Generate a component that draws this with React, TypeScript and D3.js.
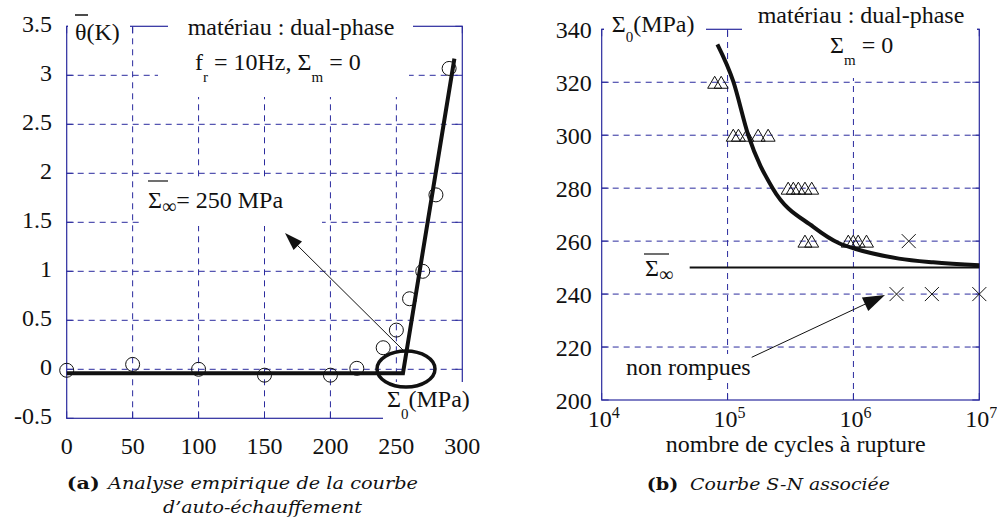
import React, { useEffect, useState } from "react";
import * as d3 from "d3";

// ---------- data: panel (a) ----------
const stressA = [0, 50, 100, 150, 200, 220, 240, 250, 260, 270, 280, 290];
const thetaA = [-0.01, 0.05, 0.0, -0.06, -0.06, 0.01, 0.22, 0.4, 0.72, 1.0, 1.78, 3.07];
const fitStressA = [0, 255, 294];
const fitThetaA = [-0.04, -0.04, 3.17];
const xTicksA = [0, 50, 100, 150, 200, 250, 300];
const yTicksA = [-0.5, 0, 0.5, 1, 1.5, 2, 2.5, 3, 3.5];
const yTickLabelsA = ["-0.5", "0", "0.5", "1", "1.5", "2", "2.5", "3", "3.5"];

// ---------- data: panel (b) ----------
const triN = [7.9e4, 8.9e4, 1.11e5, 1.22e5, 1.42e5, 1.75e5, 2.1e5, 3.03e5, 3.33e5, 3.65e5, 4.12e5, 4.66e5, 4.12e5, 4.66e5, 9.1e5, 9.96e5, 1.09e6, 1.27e6];
const triS = [320, 320, 300, 300, 300, 300, 300, 280, 280, 280, 280, 280, 260, 260, 260, 260, 260, 260];
const crossN = [2.75e6, 2.2e6, 4.2e6, 1e7];
const crossS = [260, 240, 240, 240];
const curveN = [8.3e4, 1.11e5, 1.46e5, 2.28e5, 4.8e5, 7.7e5, 1e6, 2.3e6, 4.3e6, 1e7];
const curveS = [334.3, 320.3, 300, 280, 265.4, 259.2, 257.3, 253.4, 252, 250.9];
const limitN = [5e4, 1e7];
const limitS = [250, 250];
const xTicksB = [1e4, 1e5, 1e6, 1e7];
const xTickExpB = ["4", "5", "6", "7"];
const yTicksB = [200, 220, 240, 260, 280, 300, 320, 340];

const SERIF = "Times New Roman, Liberation Serif, serif";
const CAP = "DejaVu Serif";
const BLUE = "#2b2b9e";
const INK = "#111";

export default function App() {
  const [gen, setGen] = useState(0);
  useEffect(() => {
    let alive = true;
    const bump = () => alive && setGen((g) => g + 1);
    const fs: any = (document as any).fonts;
    if (fs && fs.ready) fs.ready.then(bump);
    const id = setTimeout(bump, 150);
    return () => {
      alive = false;
      clearTimeout(id);
    };
  }, []);

  const xA = d3.scaleLinear().domain([0, 300]).range([66.7, 462.3]);
  const yA = d3.scaleLinear().domain([-0.5, 3.5]).range([418.3, 26.3]);
  const xB = d3.scaleLog().domain([1e4, 1e7]).range([601.7, 979.3]);
  const yB = d3.scaleLinear().domain([200, 340]).range([400, 29.3]);

  const lineA = d3.line<number>().x((d, i) => xA(fitStressA[i])).y((d, i) => yA(fitThetaA[i]));
  const curveB = d3
    .line<number>()
    .x((d, i) => xB(curveN[i]))
    .y((d, i) => yB(curveS[i]))
    .curve(d3.curveMonotoneX);
  const limitB = d3.line<number>().x((d, i) => xB(limitN[i])).y((d, i) => yB(limitS[i]));

  const [ax0, ax1] = xA.range();
  const [ayB, ayT] = yA.range();
  const [bx0, bx1] = xB.range();
  const [byB, byT] = yB.range();
  const tick = 7;
  const dash = "6,5";

  const arrowHead = (x1: number, y1: number, x2: number, y2: number, len: number, w: number) => {
    const a = Math.atan2(y2 - y1, x2 - x1);
    const bx = x2 - len * Math.cos(a);
    const by = y2 - len * Math.sin(a);
    const px = (Math.sin(a) * w) / 2;
    const py = (-Math.cos(a) * w) / 2;
    return `M${x2},${y2}L${bx + px},${by + py}L${bx - px},${by - py}Z`;
  };

  const T = (p: any) => <text fontFamily={SERIF} style={{ fontFamily: SERIF }} fontSize={24} fill={INK} {...p} />;

  return (
    <svg key={gen} width={997} height={519} style={{ position: "absolute", left: 0, top: 0, background: "#fff", fontFamily: SERIF }}>
      <rect x={0} y={0} width={997} height={519} fill="#fff" />

      {/* ================= Panel (a) ================= */}
      <g>
        {xTicksA.slice(1, -1).map((t) => (
          <line key={"gxa" + t} x1={xA(t)} x2={xA(t)} y1={ayB} y2={ayT} stroke={BLUE} strokeWidth={1} strokeDasharray={dash} />
        ))}
        {yTicksA.slice(1, -1).map((t) => (
          <line key={"gya" + t} x1={ax0} x2={ax1} y1={yA(t)} y2={yA(t)} stroke={BLUE} strokeWidth={1} strokeDasharray={dash} />
        ))}
        {xTicksA.map((t) => (
          <g key={"txa" + t}>
            <line x1={xA(t)} x2={xA(t)} y1={ayB} y2={ayB - tick} stroke={BLUE} />
            <line x1={xA(t)} x2={xA(t)} y1={ayT} y2={ayT + tick} stroke={BLUE} />
          </g>
        ))}
        {yTicksA.map((t) => (
          <g key={"tya" + t}>
            <line x1={ax0} x2={ax0 + tick} y1={yA(t)} y2={yA(t)} stroke={BLUE} />
            <line x1={ax1} x2={ax1 - tick} y1={yA(t)} y2={yA(t)} stroke={BLUE} />
          </g>
        ))}
        <rect x={ax0} y={ayT} width={ax1 - ax0} height={ayB - ayT} fill="none" stroke={BLUE} strokeWidth={1.2} />

        {/* white label boxes */}
        <rect x={68} y={12} width={62} height={36} fill="#fff" />
        <rect x={168} y={10} width={245} height={30} fill="#fff" />
        <rect x={158} y={40} width={251} height={57} fill="#fff" />
        <rect x={142} y={178} width={180} height={48} fill="#fff" />
        <rect x={383} y={382} width={110} height={48} fill="#fff" />

        {/* tick labels */}
        {xTicksA.map((t) => (
          <T key={"lxa" + t} x={xA(t)} y={454} textAnchor="middle">{String(t)}</T>
        ))}
        {yTicksA.map((t, i) => (
          <T key={"lya" + t} x={52} y={yA(t) + 6} textAnchor="end">{yTickLabelsA[i]}</T>
        ))}

        {/* annotations */}
        <T x={75} y={40}>θ(K)</T>
        <line x1={75} x2={88} y1={15} y2={15} stroke={INK} strokeWidth={1.5} />
        <T x={291} y={35} textAnchor="middle">matériau : dual-phase</T>
        <T x={195} y={70}>
          f<tspan fontSize={15} dy={12}>r</tspan>
          <tspan dy={-12}> = 10Hz, Σ</tspan>
          <tspan fontSize={15} dy={12}>m</tspan>
          <tspan dy={-12}> = 0</tspan>
        </T>
        <T x={148} y={208}>
          Σ<tspan fontSize={20} dy={5}>∞</tspan>
          <tspan dy={-5}>= 250 MPa</tspan>
        </T>
        <line x1={148} x2={168} y1={181} y2={181} stroke={INK} strokeWidth={1.2} />
        <T x={387} y={407}>
          Σ<tspan fontSize={15} dy={12}>0</tspan>
          <tspan dy={-12}>(MPa)</tspan>
        </T>

        {/* data */}
        {stressA.map((s, i) => (
          <circle key={"ca" + i} cx={xA(s)} cy={yA(thetaA[i])} r={7} fill="none" stroke={INK} strokeWidth={1} />
        ))}
        <path d={lineA(fitStressA) || ""} fill="none" stroke={INK} strokeWidth={4} />
        <ellipse cx={406} cy={369} rx={29} ry={18} fill="none" stroke={INK} strokeWidth={3.5} />
        <line x1={403} y1={350} x2={292} y2={240} stroke={INK} strokeWidth={1} />
        <path d={arrowHead(403, 350, 285, 233, 18, 12)} fill={INK} />

        {/* caption */}
        <text x={66.7} y={489} fontFamily={CAP} fontSize={16} fontWeight="bold" fill={INK} textLength={33} lengthAdjust="spacingAndGlyphs">(a)</text>
        <text x={108} y={489} fontFamily={CAP} fontSize={16} fontStyle="italic" fill={INK} textLength={310} lengthAdjust="spacingAndGlyphs">Analyse empirique de la courbe</text>
        <text x={163} y={513} fontFamily={CAP} fontSize={16} fontStyle="italic" fill={INK} textLength={199} lengthAdjust="spacingAndGlyphs">d’auto-échauffement</text>
      </g>

      {/* ================= Panel (b) ================= */}
      <g>
        {xTicksB.slice(1, -1).map((t) => (
          <line key={"gxb" + t} x1={xB(t)} x2={xB(t)} y1={byB} y2={byT} stroke={BLUE} strokeWidth={1} strokeDasharray={dash} />
        ))}
        {yTicksB.slice(1, -1).map((t) => (
          <line key={"gyb" + t} x1={bx0} x2={bx1} y1={yB(t)} y2={yB(t)} stroke={BLUE} strokeWidth={1} strokeDasharray={dash} />
        ))}
        {xTicksB.map((t) => (
          <g key={"txb" + t}>
            <line x1={xB(t)} x2={xB(t)} y1={byB} y2={byB - tick} stroke={BLUE} />
            <line x1={xB(t)} x2={xB(t)} y1={byT} y2={byT + tick} stroke={BLUE} />
          </g>
        ))}
        {yTicksB.map((t) => (
          <g key={"tyb" + t}>
            <line x1={bx0} x2={bx0 + tick} y1={yB(t)} y2={yB(t)} stroke={BLUE} />
            <line x1={bx1} x2={bx1 - tick} y1={yB(t)} y2={yB(t)} stroke={BLUE} />
          </g>
        ))}
        <rect x={bx0} y={byT} width={bx1 - bx0} height={byB - byT} fill="none" stroke={BLUE} strokeWidth={1.2} />

        {/* white label boxes */}
        <rect x={604} y={8} width={102} height={38} fill="#fff" />
        <rect x={742} y={0} width={235} height={36} fill="#fff" />
        <rect x={825} y={36} width={68} height={42} fill="#fff" />
        <rect x={624} y={354} width={142} height={28} fill="#fff" />

        {/* tick labels */}
        {yTicksB.map((t) => (
          <T key={"lyb" + t} x={591.7} y={yB(t) + 8.5} textAnchor="end">{String(t)}</T>
        ))}
        {xTicksB.map((t, i) => (
          <T key={"lxb" + t} x={xB(t) - 14} y={426.7}>
            10<tspan fontSize={16} dy={-9}>{xTickExpB[i]}</tspan>
          </T>
        ))}
        <T x={795.8} y={451.7} textAnchor="middle">nombre de cycles à rupture</T>

        {/* annotations */}
        <T x={611.7} y={32}>
          Σ<tspan fontSize={15} dy={10}>0</tspan>
          <tspan dy={-10}>(MPa)</tspan>
        </T>
        <T x={861} y={23} textAnchor="middle">matériau : dual-phase</T>
        <T x={830} y={53}>
          Σ<tspan fontSize={15} dy={12}>m</tspan>
          <tspan dy={-12}> = 0</tspan>
        </T>
        <T x={645} y={276}>
          Σ<tspan fontSize={20} dy={5}>∞</tspan>
        </T>
        <line x1={644} x2={669} y1={254} y2={254} stroke={INK} strokeWidth={1.2} />
        <T x={626} y={375}>non rompues</T>

        {/* data */}
        <path d={limitB(limitN) || ""} fill="none" stroke={INK} strokeWidth={2} />
        <path d={curveB(curveN) || ""} fill="none" stroke={INK} strokeWidth={4} />
        {triN.map((n, i) => {
          const cx = xB(n);
          const cy = yB(triS[i]);
          return <path key={"tr" + i} d={`M${cx},${cy - 6}L${cx + 7},${cy + 6}L${cx - 7},${cy + 6}Z`} fill="none" stroke={INK} strokeWidth={1} />;
        })}
        {crossN.map((n, i) => {
          const cx = xB(n);
          const cy = yB(crossS[i]);
          return <path key={"cr" + i} d={`M${cx - 7},${cy - 7}L${cx + 7},${cy + 7}M${cx - 7},${cy + 7}L${cx + 7},${cy - 7}`} fill="none" stroke={INK} strokeWidth={1} />;
        })}
        <line x1={751.7} y1={357.3} x2={875} y2={299.5} stroke={INK} strokeWidth={1} />
        <path d={arrowHead(751.7, 357.3, 885, 295, 22, 15)} fill={INK} />

        {/* caption */}
        <text x={646.7} y={490} fontFamily={CAP} fontSize={16} fontWeight="bold" fill={INK} textLength={31.6} lengthAdjust="spacingAndGlyphs">(b)</text>
        <text x={690} y={490} fontFamily={CAP} fontSize={16} fontStyle="italic" fill={INK} textLength={200} lengthAdjust="spacingAndGlyphs">Courbe S-N associée</text>
      </g>
    </svg>
  );
}
